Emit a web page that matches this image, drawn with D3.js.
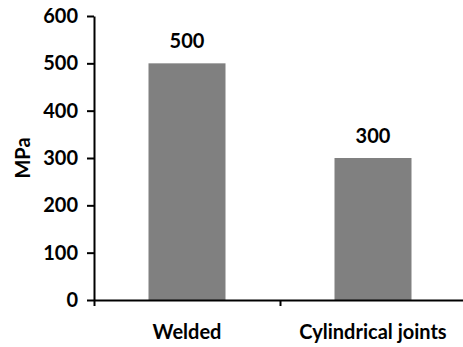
<!DOCTYPE html>
<html>
<head>
<meta charset="utf-8">
<script src="https://cdn.jsdelivr.net/npm/d3@7"></script>
<style>
  html, body { margin: 0; padding: 0; background: #fff; }
  svg text { font-family: Lato, "Open Sans", sans-serif; font-weight: bold; fill: #000; }
</style>
</head>
<body>
<svg id="chart" width="463" height="347"></svg>
<script>
const categories = ["Welded", "Cylindrical joints"];
const values = [500, 300];
const yTicks = [0, 100, 200, 300, 400, 500, 600];
const yLabel = "MPa";

(function () {
const svg = d3.select("#chart");
const mLeft = 94, mRight = 466, mTop = 16, mBottom = 300;
const fs = 20;

const y = d3.scaleLinear().domain([0, 600]).range([mBottom, mTop]);
const x = d3.scaleBand().domain(categories).range([mLeft, mRight]).padding(0);
const bw = x.bandwidth() * 0.414;

// bars
svg.selectAll("rect.bar").data(categories).join("rect")
  .attr("class", "bar")
  .attr("x", (d) => x(d) + (x.bandwidth() - bw) / 2)
  .attr("width", bw)
  .attr("y", (d, i) => y(values[i]))
  .attr("height", (d, i) => y(0) - y(values[i]))
  .attr("fill", "#808080");

// value labels
svg.selectAll("text.val").data(categories).join("text")
  .attr("class", "val")
  .attr("x", (d) => x(d) + x.bandwidth() / 2)
  .attr("y", (d, i) => y(values[i]) - 15)
  .attr("text-anchor", "middle")
  .style("font-size", fs + "px")
  .text((d, i) => values[i]);

// y axis
const yAxis = svg.append("g")
  .attr("transform", `translate(${mLeft},0)`)
  .call(d3.axisLeft(y).tickValues(yTicks).tickSize(7).tickSizeOuter(0).tickPadding(9));
yAxis.attr("font-family", null).attr("font-size", null);
yAxis.select(".domain").attr("stroke", "#000").attr("stroke-width", 2);
yAxis.selectAll(".tick line").attr("stroke", "#000").attr("stroke-width", 2);
yAxis.selectAll(".tick text").style("font-size", fs + "px").attr("fill", "#000");

// x axis: boundary ticks
const xb = d3.scaleLinear().domain([0, categories.length]).range([mLeft, mRight]);
const xAxis = svg.append("g")
  .attr("transform", `translate(0,${mBottom})`)
  .call(d3.axisBottom(xb).ticks(categories.length).tickSize(6).tickSizeOuter(0).tickFormat(""));
xAxis.select(".domain").attr("stroke", "#000").attr("stroke-width", 2);
xAxis.selectAll(".tick line").attr("stroke", "#000").attr("stroke-width", 2);

// category labels
const xLab = svg.append("g")
  .attr("transform", `translate(0,${mBottom})`)
  .call(d3.axisBottom(x).tickSize(0).tickPadding(25));
xLab.attr("font-family", null).attr("font-size", null);
xLab.select(".domain").remove();
xLab.selectAll(".tick text").style("font-size", fs + "px").attr("fill", "#000");

// y label
svg.append("text")
  .attr("transform", `translate(30,${(mTop + mBottom) / 2}) rotate(-90)`)
  .attr("text-anchor", "middle")
  .style("font-size", fs + "px")
  .text(yLabel);
})();
</script>
</body>
</html>
